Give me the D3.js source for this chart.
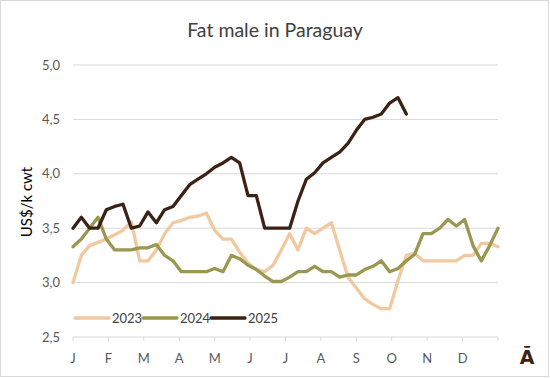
<!DOCTYPE html>
<html><head><meta charset="utf-8">
<script src="https://cdn.jsdelivr.net/npm/d3@7"></script>
<style>body{margin:0;background:#fff}svg{display:block;font-family:Lato,"Open Sans",sans-serif}</style>
</head><body><svg id="c" width="550" height="378"></svg>
<script>
const monthLabels = ["J","F","M","A","M","J","J","A","S","O","N","D"];
const yTicks = [2.5,3.0,3.5,4.0,4.5,5.0];
const seriesNames = ["2023","2024","2025"];
const colors = ["#f2c8a0","#9a9850","#3b2215"];
const v2023 = [3.00,3.25,3.34,3.37,3.40,3.44,3.48,3.56,3.20,3.20,3.30,3.45,3.55,3.57,3.60,3.61,3.64,3.48,3.40,3.40,3.28,3.18,3.12,3.10,3.16,3.30,3.45,3.30,3.50,3.45,3.50,3.55,3.30,3.05,2.95,2.85,2.80,2.76,2.76,3.02,3.25,3.27,3.20,3.20,3.20,3.20,3.20,3.25,3.25,3.36,3.36,3.33];
const v2024 = [3.33,3.40,3.50,3.60,3.40,3.30,3.30,3.30,3.32,3.32,3.35,3.25,3.20,3.10,3.10,3.10,3.10,3.13,3.10,3.25,3.22,3.16,3.12,3.06,3.01,3.01,3.05,3.10,3.10,3.15,3.10,3.10,3.05,3.07,3.07,3.12,3.15,3.20,3.10,3.13,3.20,3.26,3.45,3.45,3.50,3.58,3.52,3.58,3.34,3.20,3.34,3.50];
const v2025 = [3.50,3.60,3.50,3.50,3.67,3.70,3.72,3.50,3.52,3.65,3.55,3.67,3.70,3.80,3.90,3.95,4.00,4.06,4.10,4.15,4.10,3.80,3.80,3.50,3.50,3.50,3.50,3.75,3.95,4.01,4.10,4.15,4.20,4.28,4.40,4.50,4.52,4.55,4.65,4.70,4.55];
const allSeries = [v2023, v2024, v2025];

const svg = d3.select("#c");
svg.append("rect").attr("x",0.5).attr("y",0.5).attr("width",548).attr("height",376)
  .attr("fill","#fff").attr("stroke","#d9d9d9");

const L = 73, R = 498, T = 65, B = 337;
const x = d3.scaleLinear().domain([0,51]).range([L,R]);
const xm = d3.scaleLinear().domain([0,12]).range([L,R]);
const y = d3.scaleLinear().domain([2.5,5.0]).range([B,T]);

svg.append("g").selectAll("line").data(yTicks).join("line")
  .attr("x1",L).attr("x2",R).attr("y1",d=>y(d)).attr("y2",d=>y(d))
  .attr("stroke","#d9d9d9").attr("stroke-width",1);

svg.append("g").selectAll("text").data(yTicks).join("text")
  .attr("x",60).attr("y",d=>y(d)).attr("dy","0.35em").attr("text-anchor","end")
  .attr("font-size",13).attr("fill","#595959").text(d=>d.toFixed(1).replace(".",","));

const xa = svg.append("g");
xa.selectAll("line").data(d3.range(13)).join("line")
  .attr("x1",d=>xm(d)).attr("x2",d=>xm(d)).attr("y1",B).attr("y2",B+4)
  .attr("stroke","#d9d9d9");
xa.selectAll("text").data(monthLabels).join("text")
  .attr("x",(d,i)=>xm(i)).attr("y",358).attr("dy","0.35em").attr("text-anchor","middle")
  .attr("font-size",13).attr("fill","#595959").text(d=>d);

svg.append("text").attr("transform","translate(32,202) rotate(-90)")
  .attr("text-anchor","middle").attr("font-size",15).attr("fill","#000").text("US$/k cwt");

svg.append("text").attr("x",275).attr("y",37).attr("text-anchor","middle")
  .attr("font-size",19.5).attr("fill","#404040").text("Fat male in Paraguay");

const line = d3.line().x((d,i)=>x(i)).y(d=>y(d)).curve(d3.curveLinear);
svg.append("g").selectAll("path").data(allSeries).join("path")
  .attr("d",line).attr("fill","none").attr("stroke",(d,i)=>colors[i])
  .attr("stroke-width",3.3).attr("stroke-linejoin","round").attr("stroke-linecap","round");

const legX = [75,143,211];
const lg = svg.append("g").selectAll("g").data(seriesNames).join("g")
  .attr("transform",(d,i)=>`translate(${legX[i]},318)`);
lg.append("line").attr("x1",0).attr("x2",34).attr("y1",0).attr("y2",0)
  .attr("stroke",(d,i)=>colors[i]).attr("stroke-width",3.3).attr("stroke-linecap","round");
lg.append("text").attr("x",37).attr("y",0).attr("dy","0.35em")
  .attr("font-size",13).attr("fill","#404040").text(d=>d);

svg.append("text").attr("x",527).attr("y",364).attr("text-anchor","middle")
  .attr("font-size",19).attr("font-weight","bold").attr("fill","#3b2215")
  .attr("font-family","'DejaVu Sans',sans-serif").text("Ā");
</script></body></html>
